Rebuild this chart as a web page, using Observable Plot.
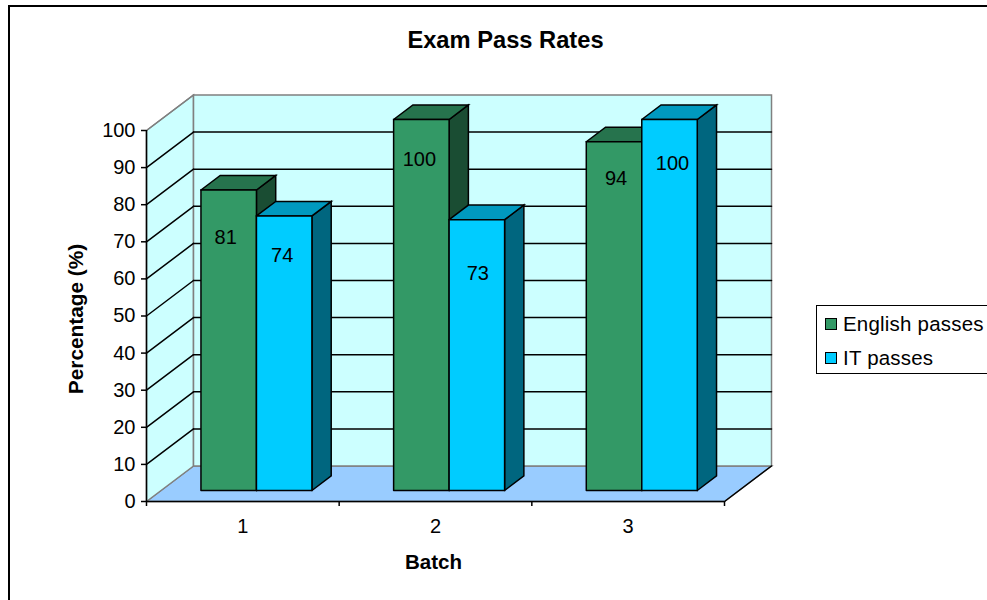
<!DOCTYPE html>
<html>
<head>
<meta charset="utf-8">
<script src="https://cdn.jsdelivr.net/npm/d3@7"></script>
<script src="https://cdn.jsdelivr.net/npm/@observablehq/plot@0.6"></script>
<style>
  html, body { margin: 0; padding: 0; background: #fff; overflow: hidden; }
  #page { position: relative; width: 987px; height: 600px; overflow: hidden; font-family: "Liberation Sans", Arial, sans-serif; color: #000; }
  #page svg { display: block; }
  #outline { position: absolute; left: 8px; top: 5px; width: 1200px; height: 900px; border: 2px solid #000; box-sizing: border-box; pointer-events: none; }
  #legend { position: absolute; left: 816px; top: 305px; width: 300px; height: 69px; border: 1.5px solid #000; box-sizing: border-box; background: #fff; font-size: 20.5px; }
  #legend div { position: absolute; left: 26px; white-space: nowrap; line-height: 24px; letter-spacing: 0.2px; }
  #legend i { position: absolute; left: -18px; top: 6px; width: 12px; height: 12px; box-sizing: border-box; border: 1.5px solid #000; }
</style>
</head>
<body>
<div id="page">
  <div id="chart"></div>
  <div id="outline"></div>
  <div id="legend"></div>
</div>
<script>
// Pass rates per batch
const batches = [1, 2, 3];
const seriesNames = ["English passes", "IT passes"];
const english = [81, 100, 94];
const it = [74, 73, 100];
const yTicks = [0, 10, 20, 30, 40, 50, 60, 70, 80, 90, 100];

// Oblique projection: a point at depth z (0 = front, 1 = back wall) shifts
// by this much in data units along each axis.
const depthX = 0.244;
const depthY = 9.57;
const project = (x, y, z = 0) => ({x: x + z * depthX, y: y + z * depthY});

// Bar placement inside one batch slot, in x units and depth fractions
const barInset = 0.207, barWidth = 0.288, barFront = 0.31, barBack = 0.72;

const faceColors = {
  wall: "#ccffff", floor: "#99ccff",
  green: {front: "#339966", top: "#26734d", side: "#1a4d33"},
  blue: {front: "#00ccff", top: "#0099bf", side: "#00667f"}
};

let faceId = 0;
function face(corners, fill, stroke) {
  const id = faceId++;
  const pts = [...corners, corners[0]];
  return pts.map(p => ({...p, id, fill, stroke}));
}
function segment(a, b, stroke) {
  const id = faceId++;
  return [a, b].map(p => ({...p, id, fill: "none", stroke}));
}

// Chart box: floor, left wall, back wall and the gridlines across them
const xMax = batches.length;
const shell = [
  ...face([project(0, 0), project(xMax, 0), project(xMax, 0, 1), project(0, 0, 1)], faceColors.floor, "#808080"),
  ...face([project(0, 0), project(0, 100), project(0, 100, 1), project(0, 0, 1)], faceColors.wall, "#808080"),
  ...face([project(0, 0, 1), project(0, 100, 1), project(xMax, 100, 1), project(xMax, 0, 1)], faceColors.wall, "#808080")
];
const grid = yTicks.filter(v => v > 0 && v < 100).flatMap(v => [
  ...segment(project(0, v), project(0, v, 1), "#000"),
  ...segment(project(0, v, 1), project(xMax, v, 1), "#000")
]).concat(segment(project(0, 100), project(0, 100, 1), "#808080"));

// One 3D bar: side, top and front faces
function bar(x0, value, colors) {
  const x1 = x0 + barWidth;
  const edge = "#000";
  return [
    ...face([project(x1, 0, barFront), project(x1, 0, barBack), project(x1, value, barBack), project(x1, value, barFront)], colors.side, edge),
    ...face([project(x0, value, barFront), project(x1, value, barFront), project(x1, value, barBack), project(x0, value, barBack)], colors.top, edge),
    ...face([project(x0, 0, barFront), project(x1, 0, barFront), project(x1, value, barFront), project(x0, value, barFront)], colors.front, edge)
  ];
}
const bars = batches.flatMap((b, i) => [
  ...bar(i + barInset, english[i], faceColors.green),
  ...bar(i + barInset + barWidth, it[i], faceColors.blue)
]);

// Value labels sit inside each bar, offset in px from the bar's value
const labelDrop = {english: [37, 29, 26], it: [29, 43, 33]};
const labelNudge = {english: [-3, -2, 2], it: [-2, 1, 3]};
const valueLabels = batches.flatMap((b, i) => [
  {v: english[i], x: project(i + barInset + barWidth / 2, 0, barFront).x, dy: labelDrop.english[i], dx: labelNudge.english[i]},
  {v: it[i], x: project(i + barInset + barWidth * 1.5, 0, barFront).x, dy: labelDrop.it[i], dx: labelNudge.it[i]}
]);

const faces = data => Plot.line(data, {
  x: "x", y: "y", z: "id",
  fill: "fill", stroke: "stroke",
  strokeWidth: 1.5, strokeLinejoin: "miter", strokeMiterlimit: 4
});

const chart = Plot.plot({
  width: 987,
  height: 600,
  marginLeft: 146,
  marginRight: 263,
  marginTop: 130,
  marginBottom: 99,
  style: {fontFamily: "'Liberation Sans', Arial, sans-serif", background: "#fff", color: "#000"},
  x: {domain: [0, xMax]},
  y: {domain: [0, 100]},
  color: {type: "identity"},
  marks: [
    faces(shell),
    faces(grid),
    faces(segment(project(xMax, 0), project(xMax, 0, 1), "#000")),
    faces(bars),
    Plot.ruleX([0], {y1: 0, y2: 100, stroke: "#000", strokeWidth: 1.5}),
    Plot.ruleY([0], {x1: 0, x2: xMax, stroke: "#000", strokeWidth: 1.5}),
    Plot.axisY({ticks: yTicks, tickSize: 5, tickPadding: 6, fontSize: 20, label: null, tickFormat: d => d, strokeWidth: 1.5}),
    Plot.axisX({ticks: [0, 1, 2, 3], tickSize: 5, tickFormat: () => "", label: null, strokeWidth: 1.5}),
    Plot.axisX({ticks: batches.map(b => b - 0.5), tickSize: 0, tickPadding: 17, fontSize: 20, label: null, tickFormat: d => d + 0.5}),
    ...valueLabels.map(d => Plot.text([d], {x: "x", y: "v", text: "v", dy: d.dy, dx: d.dx, fontSize: 20, fill: "#000"})),
    Plot.text(["Exam Pass Rates"], {frameAnchor: "top", dx: 70, dy: -90, lineAnchor: "middle", textAnchor: "middle", fontSize: 23.7, fontWeight: "bold"}),
    Plot.text(["Batch"], {frameAnchor: "bottom", dx: -2, dy: 61, lineAnchor: "middle", textAnchor: "middle", fontSize: 20.5, fontWeight: "bold"}),
    Plot.text(["Percentage (%)"], {frameAnchor: "left", dx: -70, dy: 3, rotate: -90, lineAnchor: "middle", textAnchor: "middle", fontSize: 20.8, fontWeight: "bold"})
  ]
});
document.getElementById("chart").append(chart);

// Legend box on the right of the plot
const legend = document.getElementById("legend");
seriesNames.forEach((name, i) => {
  const row = document.createElement("div");
  row.style.top = (6 + i * 34) + "px";
  const swatch = document.createElement("i");
  swatch.style.background = [faceColors.green.front, faceColors.blue.front][i];
  row.append(swatch, name);
  legend.append(row);
});
</script>
</body>
</html>
